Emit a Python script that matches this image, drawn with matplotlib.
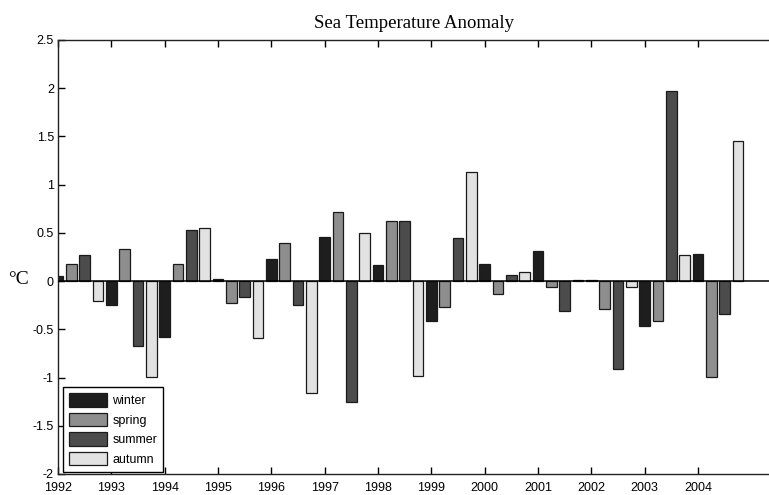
import numpy as np
import matplotlib
matplotlib.use("Agg")
import matplotlib.pyplot as plt

years = np.arange(1992, 2005)
seasons = ["winter", "spring", "summer", "autumn"]

winter = [0.05, -0.245, -0.58, 0.02, 0.23, 0.46, 0.17, -0.41, 0.18, 0.31, 0.015, -0.47, 0.28]
spring = [0.18, 0.33, 0.18, -0.225, 0.395, 0.715, 0.62, -0.27, -0.135, -0.06, -0.29, -0.415, -0.99]
summer = [0.27, -0.675, 0.525, -0.16, -0.245, -1.255, 0.62, 0.45, 0.06, -0.31, -0.91, 1.97, -0.34]
autumn = [-0.21, -0.99, 0.555, -0.59, -1.165, 0.50, -0.985, 1.13, 0.095, 0.015, -0.06, 0.27, 1.45]

colors = ["#1e1e1e", "#8e8e8e", "#4c4c4c", "#e2e2e2"]

plt.rcParams["font.family"] = ["Liberation Sans", "DejaVu Sans"]

fig = plt.figure(figsize=(7.69, 4.95), dpi=100)
ax = fig.add_axes([58 / 769, 1 - 474 / 495, 1 - 58 / 769, (474 - 40) / 495])

for k, (name, vals, col) in enumerate(zip(seasons, [winter, spring, summer, autumn], colors)):
    ax.bar(years + 0.25 * k, vals, width=0.2, color=col, edgecolor="#1a1a1a",
           linewidth=0.9, label=name, zorder=2)

ax.axhline(0, color="black", linewidth=1.1, zorder=3)

ax.set_xlim(1992, 2005.33)
ax.set_ylim(-2, 2.5)
ax.set_xticks(years)
ax.set_xticklabels([str(y) for y in years])
ax.set_yticks(np.arange(-2, 2.51, 0.5))
ax.set_yticklabels(["-2", "-1.5", "-1", "-0.5", "0", "0.5", "1", "1.5", "2", "2.5"])
ax.tick_params(direction="in", length=5, width=1, labelsize=9, top=True, right=False,
               colors="black", pad=3)
ax.tick_params(axis="x", pad=6)
ax.spines["right"].set_visible(False)
for s in ["left", "top", "bottom"]:
    ax.spines[s].set_linewidth(1)
    ax.spines[s].set_color("#222222")

ax.set_title("Sea Temperature Anomaly", family=["Liberation Serif", "DejaVu Serif"],
             fontsize=13.5, pad=9)
fig.text(8 / 769, 1 - 280 / 495, "°C", family=["Liberation Serif", "DejaVu Serif"],
         fontsize=14, va="center", ha="left")

leg = ax.legend(loc="lower left", bbox_to_anchor=(0.007, 0.005), fontsize=9,
                frameon=True, fancybox=False, edgecolor="black", framealpha=1,
                borderaxespad=0, handlelength=3.05, handleheight=1.25,
                handletextpad=0.4, labelspacing=0.45, borderpad=0.5)
leg.get_frame().set_linewidth(1)

fig.savefig("out.png", dpi=100)
